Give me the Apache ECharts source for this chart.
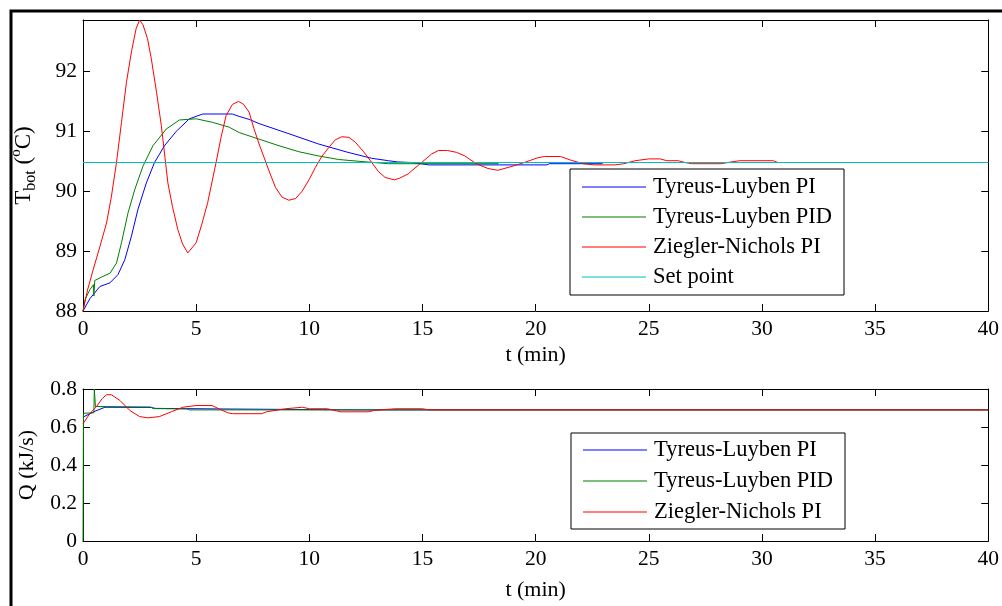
<!DOCTYPE html>
<html><head><meta charset="utf-8">
<script src="https://cdn.jsdelivr.net/npm/echarts@6/dist/echarts.min.js"></script>
<style>html,body{margin:0;padding:0;background:#fff}#c{width:1002px;height:606px}</style>
</head><body><div id="c"></div>
<script>
// ---- Data ----
const tTicks = [0, 5, 10, 15, 20, 25, 30, 35, 40];
const seriesNames = ['Tyreus-Luyben PI', 'Tyreus-Luyben PID', 'Ziegler-Nichols PI', 'Set point'];
const setPoint = 90.48;

// Top plot: T_bot (°C)
const t_TLPI = [0,0.31,0.75,1.19,1.55,1.85,2.14,2.43,2.8,3.16,3.6,4.12,4.7,5.29,6.6,6.9,7.34,7.78,9.1,10.4,11.7,12.76,13.5,13.9,14.5,15.3,20.5,20.6,22.9,23.0,40];
const T_TLPI = [88.0,88.21,88.41,88.47,88.61,88.86,89.25,89.70,90.14,90.48,90.76,91.0,91.21,91.29,91.29,91.25,91.2,91.13,90.96,90.79,90.65,90.55,90.51,90.49,90.48,90.44,90.44,90.46,90.46,90.48,90.48];

const t_TLPID = [0,0.1,0.31,0.46,0.48,0.5,0.52,0.89,1.19,1.48,1.70,1.99,2.29,2.65,3.09,3.68,4.26,5.0,5.73,6.46,6.9,7.78,8.66,9.54,10.4,11.3,12.2,13.5,18.3,18.4,40];
const T_TLPID = [88.0,88.2,88.36,88.44,88.25,88.25,88.51,88.58,88.63,88.80,89.14,89.64,90.03,90.42,90.76,91.04,91.19,91.21,91.15,91.07,90.98,90.87,90.76,90.66,90.59,90.53,90.50,90.46,90.46,90.48,90.48];

const t_ZN = [0,0.2,0.45,0.75,1.04,1.25,1.48,1.7,1.92,2.15,2.35,2.5,2.65,2.85,3.02,3.25,3.46,3.75,3.95,4.19,4.4,4.63,5.0,5.25,5.51,5.88,6.1,6.32,6.6,6.87,7.1,7.34,7.55,7.78,8.22,8.51,8.8,9.1,9.4,9.68,10.0,10.27,10.55,10.86,11.15,11.44,11.75,12.03,12.4,12.76,13.05,13.35,13.76,14.0,14.37,14.52,14.96,15.4,15.7,16.1,16.5,16.87,17.38,17.89,18.33,18.9,19.5,20.1,20.4,21.1,21.55,22.1,22.6,23.5,23.9,24.4,25.0,25.5,25.8,26.3,26.6,26.9,28.2,28.5,29.0,30.5,30.7,40];
const T_ZN = [88.0,88.35,88.69,89.08,89.47,89.9,90.48,91.15,91.82,92.35,92.72,92.86,92.78,92.55,92.21,91.65,91.10,90.14,89.75,89.36,89.12,88.97,89.14,89.45,89.81,90.48,90.9,91.26,91.45,91.50,91.45,91.32,91.05,90.79,90.34,90.06,89.9,89.85,89.88,90.0,90.2,90.40,90.58,90.73,90.86,90.91,90.9,90.82,90.66,90.48,90.33,90.23,90.19,90.22,90.29,90.34,90.48,90.62,90.68,90.68,90.65,90.59,90.46,90.38,90.35,90.41,90.48,90.56,90.58,90.58,90.52,90.46,90.44,90.44,90.46,90.51,90.54,90.54,90.51,90.51,90.48,90.46,90.46,90.48,90.51,90.51,90.48,90.48];

const t_SP = [0, 40];
const T_SP = [setPoint, setPoint];

// Bottom plot: Q (kJ/s)
const tq_TLPI = [0,0.53,0.97,3.0,3.2,6.0,12,40];
const Q_TLPI = [0.652,0.683,0.704,0.703,0.698,0.695,0.69,0.69];

const tq_TLPID = [0,0.02,0.48,0.5,0.53,0.55,3.0,3.1,4.6,4.7,40];
const Q_TLPID = [0,0.672,0.675,0.8,0.8,0.708,0.705,0.697,0.695,0.69,0.69];

const tq_ZN = [0,0.3,0.6,0.85,1.04,1.25,1.63,2.07,2.5,2.87,3.38,3.9,4.41,5.0,5.7,6.0,6.4,6.6,7.9,8.1,8.95,9.7,10.0,10.8,11.2,11.4,12.6,12.9,13.8,15.0,15.3,40];
const Q_ZN = [0.617,0.67,0.708,0.75,0.77,0.77,0.74,0.687,0.655,0.648,0.655,0.68,0.704,0.713,0.713,0.696,0.675,0.67,0.67,0.68,0.696,0.704,0.696,0.696,0.685,0.68,0.68,0.688,0.696,0.696,0.69,0.69];

// ---- Build ----
const zip = (a, b) => a.map((v, i) => [v, b[i]]);
const FONT = 'Liberation Serif';
const colors = { blue: '#0000ff', green: '#007f00', red: '#ff0000', cyan: '#00bfbf' };

function lineSeries(name, data, color, gi) {
  return {
    type: 'line', name, data, xAxisIndex: gi * 2, yAxisIndex: gi * 2,
    symbol: 'none', showSymbol: false, smooth: false, clip: true,
    lineStyle: { color, width: 1 }, itemStyle: { color },
    emphasis: { disabled: true }, animation: false, silent: true
  };
}

function xAx(gi, pos, withLabel, nameGap) {
  return {
    gridIndex: gi, type: 'value', min: 0, max: 40, interval: 5, position: pos,
    axisLine: { show: true, onZero: false, lineStyle: { color: '#000', width: 1 } },
    axisTick: { show: true, inside: true, length: 7, lineStyle: { color: '#000' } },
    axisLabel: { show: withLabel, fontFamily: FONT, fontSize: 21.5, color: '#000', margin: 7 },
    splitLine: { show: false },
    name: withLabel ? 't (min)' : '', nameLocation: 'middle', nameGap: nameGap,
    nameTextStyle: { fontFamily: FONT, fontSize: 22, color: '#000' }
  };
}
function yAx(gi, pos, withLabel, min, max, interval, name, nameGap) {
  return {
    gridIndex: gi, type: 'value', min, max, interval, position: pos,
    axisLine: { show: true, onZero: false, lineStyle: { color: '#000', width: 1 } },
    axisTick: { show: true, inside: true, length: 7, lineStyle: { color: '#000' } },
    axisLabel: { show: withLabel, fontFamily: FONT, fontSize: 21.5, color: '#000', margin: 6,
      showMaxLabel: gi === 1, formatter: v => String(Math.round(v * 10) / 10) },
    splitLine: { show: false },
    name: withLabel ? name : '', nameLocation: 'middle', nameGap, nameRotate: 90,
    nameTextStyle: {
      fontFamily: FONT, fontSize: 22, color: '#000',
      rich: {
        n: { fontFamily: FONT, fontSize: 23, color: '#000', lineHeight: 30 },
        s: { fontFamily: FONT, fontSize: 16, color: '#000', lineHeight: 16, verticalAlign: 'bottom' },
        p: { fontFamily: FONT, fontSize: 15, color: '#000', lineHeight: 15, verticalAlign: 'top' }
      }
    }
  };
}

const legendBase = {
  orient: 'vertical', backgroundColor: '#fff', borderColor: '#000', borderWidth: 1,
  icon: 'rect', itemWidth: 64, itemHeight: 1, itemGap: 6,
  textStyle: { fontFamily: FONT, fontSize: 22.5, color: '#000', lineHeight: 24, padding: [0, 0, 0, 2] },
  selectedMode: false
};

const option = {
  backgroundColor: '#fff',
  animation: false,
  grid: [
    { left: 83, top: 20, width: 910, height: 291, containLabel: false },
    { left: 83, top: 389, width: 910, height: 152, containLabel: false }
  ],
  xAxis: [ xAx(0, 'bottom', true, 33), xAx(0, 'top', false, 0), xAx(1, 'bottom', true, 38), xAx(1, 'top', false, 0) ],
  yAxis: [
    yAx(0, 'left', true, 88, 92.86, 1, '{n|T}{s|bot}{n| (}{p|o}{n|C)}', 44),
    yAx(0, 'right', false, 88, 92.86, 1, '', 0),
    yAx(1, 'left', true, 0, 0.8, 0.2, 'Q (kJ/s)', 45),
    yAx(1, 'right', false, 0, 0.8, 0.2, '', 0)
  ],
  legend: [
    Object.assign({}, legendBase, { data: seriesNames, left: 570, top: 169, padding: [6, 12, 6, 12] }),
    Object.assign({}, legendBase, { data: seriesNames.slice(0, 3), left: 571, top: 433, itemGap: 7, padding: [5, 12, 5, 12] })
  ],
  graphic: [
    { type: 'rect', shape: { x: 11, y: 11, width: 1300, height: 1000 },
      style: { fill: 'none', stroke: '#000', lineWidth: 3 }, silent: true, z: 100 }
  ],
  series: [
    lineSeries(seriesNames[0], zip(t_TLPI, T_TLPI), colors.blue, 0),
    lineSeries(seriesNames[1], zip(t_TLPID, T_TLPID), colors.green, 0),
    lineSeries(seriesNames[2], zip(t_ZN, T_ZN), colors.red, 0),
    lineSeries(seriesNames[3], zip(t_SP, T_SP), colors.cyan, 0),
    lineSeries(seriesNames[0], zip(tq_TLPI, Q_TLPI), colors.blue, 1),
    lineSeries(seriesNames[1], zip(tq_TLPID, Q_TLPID), colors.green, 1),
    lineSeries(seriesNames[2], zip(tq_ZN, Q_ZN), colors.red, 1)
  ]
};

const chart = echarts.init(document.getElementById('c'), null, { renderer: 'canvas' });
chart.setOption(option);
</script>
</body></html>
